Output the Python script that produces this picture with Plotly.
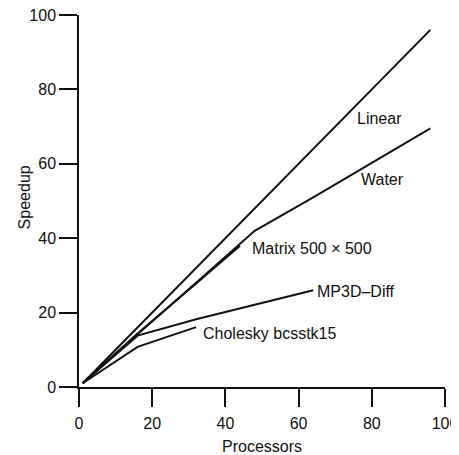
import plotly.graph_objects as go

# Data
linear_x = [1, 96]
linear_y = [1, 96]

water_x = [1, 16, 32, 48, 64, 96]
water_y = [1, 14.2, 28, 42, 51, 69.5]

matrix_x = [1, 16, 32, 44]
matrix_y = [1, 14.4, 27.8, 38]

mp3d_x = [1, 16, 32, 64]
mp3d_y = [1, 13.8, 18.2, 26]

chol_x = [1, 16, 32]
chol_y = [1, 10.8, 16.1]

labels = ["Linear", "Water", "Matrix 500 \u00d7 500", "MP3D\u2013Diff", "Cholesky bcsstk15"]
label_x = [75.5, 76.5, 46.8, 64.4, 33.4]
label_y = [72.3, 55.9, 37.2, 25.8, 14.5]

x_ticks = [0, 20, 40, 60, 80, 100]
y_ticks = [0, 20, 40, 60, 80, 100]

FONT = "Liberation Sans, Arial, sans-serif"
INK = "#111111"

fig = go.Figure()
for xs, ys in [(linear_x, linear_y), (water_x, water_y), (matrix_x, matrix_y),
               (mp3d_x, mp3d_y), (chol_x, chol_y)]:
    fig.add_trace(go.Scatter(x=xs, y=ys, mode="lines",
                             line=dict(color=INK, width=2), showlegend=False,
                             hoverinfo="skip"))

for t, x, y in zip(labels, label_x, label_y):
    fig.add_annotation(x=x, y=y, text=t, showarrow=False, xanchor="left",
                       yanchor="middle", font=dict(family=FONT, size=16, color=INK))

# y-axis title placed as a rotated annotation (standoff is ignored without automargin)
fig.add_annotation(xref="paper", yref="paper", x=-0.150, y=0.51, text="Speedup",
                   textangle=-90, showarrow=False, xanchor="center", yanchor="middle",
                   font=dict(family=FONT, size=16, color=INK))

axis_common = dict(showline=True, linecolor=INK, linewidth=1.5, ticks="outside",
                   ticklen=18, tickwidth=1.5, tickcolor=INK, showgrid=False,
                   zeroline=False, automargin=False, ticklabeloverflow="allow",
                   tickfont=dict(family=FONT, size=16, color=INK),
                   title_font=dict(family=FONT, size=16, color=INK))

fig.update_xaxes(range=[0, 100], tickvals=x_ticks, title_text="Processors",
                 title_standoff=14, ticklabelstandoff=3, **axis_common)
fig.update_yaxes(range=[0, 100], tickvals=y_ticks, **axis_common)

# page body has an 8px default margin, so the figure is sized to fit the window
fig.update_layout(template="none", width=451, height=447,
                  margin=dict(l=71, r=14, t=7, b=68),
                  plot_bgcolor="white", paper_bgcolor="white",
                  font=dict(family=FONT, size=16, color=INK))

fig.write_html("out.html")
